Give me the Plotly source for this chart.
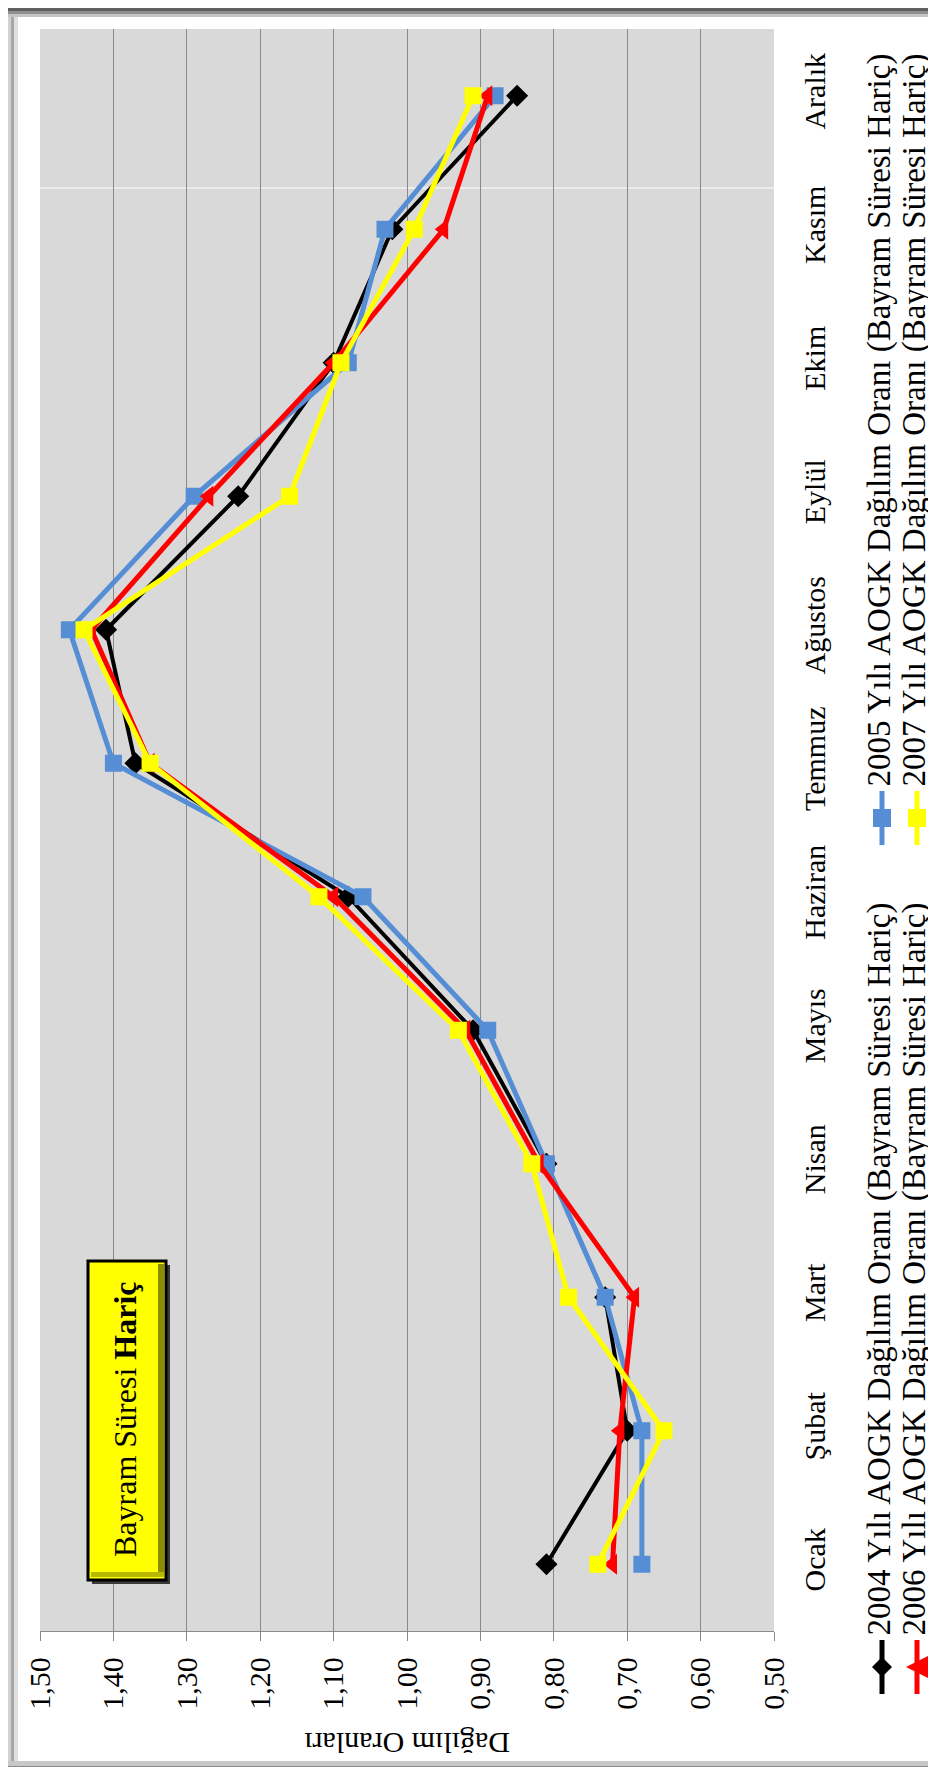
import plotly.graph_objects as go

# ---------------- data ----------------
months = ["Ocak", "Şubat", "Mart", "Nisan", "Mayıs", "Haziran",
          "Temmuz", "Ağustos", "Eylül", "Ekim", "Kasım", "Aralık"]
v2004 = [0.81, 0.70, 0.73, 0.81, 0.91, 1.08, 1.37, 1.41, 1.23, 1.10, 1.02, 0.85]
v2005 = [0.68, 0.68, 0.73, 0.81, 0.89, 1.06, 1.40, 1.46, 1.29, 1.08, 1.03, 0.88]
v2006 = [0.72, 0.71, 0.69, 0.82, 0.92, 1.10, 1.35, 1.43, 1.27, 1.10, 0.95, 0.89]
v2007 = [0.74, 0.65, 0.78, 0.83, 0.93, 1.12, 1.35, 1.44, 1.16, 1.09, 0.99, 0.91]
series_names = [
    "2004 Yılı AOGK Dağılım Oranı (Bayram Süresi Hariç)",
    "2005 Yılı AOGK Dağılım Oranı (Bayram Süresi Hariç)",
    "2006 Yılı AOGK Dağılım Oranı (Bayram Süresi Hariç)",
    "2007 Yılı AOGK Dağılım Oranı (Bayram Süresi Hariç)",
]
value_ticks = [0.5, 0.6, 0.7, 0.8, 0.9, 1.0, 1.1, 1.2, 1.3, 1.4, 1.5]
axis_title = "Dağılım Oranları"
box_text = "Bayram Süresi <b>Hariç</b>"

# ---------------- geometry ----------------
W, H = 936, 1767
PX0, PX1, PY0, PY1 = 32, 766, 21, 1623   # plot area in pixels
PW, PH = PX1 - PX0, PY1 - PY0
FONT = "Liberation Serif"
FS = 30
LEG_FS = 33

def px(x):
    return (x - PX0) / PW

def py(y):
    return (PY1 - y) / PH

colors = ["#000000", "#558ED5", "#FF0000", "#FFFF00"]
symbols = ["diamond", "square", "triangle-left", "square"]
msizes = [17, 17, 18, 17]
lwidths = [4, 5, 5, 5]
values = [v2004, v2005, v2006, v2007]

fig = go.Figure()
for name, vals, c, s, ms, lw in zip(series_names, values, colors, symbols, msizes, lwidths):
    fig.add_trace(go.Scatter(
        x=vals, y=months, name=name, mode="lines+markers",
        line=dict(color=c, width=lw),
        marker=dict(symbol=s, size=ms, color=c, line=dict(width=0)),
        cliponaxis=False, showlegend=False,
    ))

shapes = []
annotations = []

def rect(x0, y0, x1, y1, fill, line_color=None, lw=0, layer="above"):
    shapes.append(dict(type="rect", xref="paper", yref="paper",
                       x0=px(x0), x1=px(x1), y0=py(y0), y1=py(y1),
                       fillcolor=fill, layer=layer,
                       line=dict(color=line_color or fill, width=lw)))

# frame shadow
rect(0, 0, W, 3, "#5f5f5f")
rect(0, 3, W, 6, "#8f8f8f")
rect(0, 6, W, 9, "#c4c4c4")
rect(0, 9, 3, H, "#d2d2d2")
rect(3, 9, 6, H, "#a8a8a8")
rect(6, 9, 10, H, "#e0e0e0")
rect(W - 4, 9, W, H, "#d8d8d8")
rect(0, H - 14, W, H - 9, "#c8c8c8")
rect(0, H - 9, W, H - 4, "#8a8a8a")
rect(0, H - 4, W, H, "#a8a8a8")

# faint white line across the plot
shapes.append(dict(type="line", xref="paper", yref="paper",
                   x0=0, x1=1, y0=py(180), y1=py(180),
                   line=dict(color="white", width=1), layer="below"))

# yellow text box
rect(84, 1257, 162, 1576, "#3a3a3a")
rect(80, 1253, 158, 1572, "#FFFF00", "#000000", 3)
rect(150, 1256, 156, 1569, "#8c8c00")
rect(83, 1564, 156, 1569, "#b8b800")
annotations.append(dict(xref="paper", yref="paper", x=px(117), y=py(1412),
                        text=box_text, textangle=-90, showarrow=False,
                        font=dict(family=FONT, size=32, color="black"),
                        xanchor="center", yanchor="middle"))

# axis title (upside down)
annotations.append(dict(xref="paper", yref="paper", x=px(399), y=py(1736),
                        text=axis_title, textangle=180, showarrow=False,
                        font=dict(family=FONT, size=FS, color="black"),
                        xanchor="center", yanchor="middle"))

# manual legend (rotated)
leg_pos = [(874, 1659), (874, 810), (909, 1659), (909, 810)]
for (cx, cy), name, c, s in zip(leg_pos, series_names, colors, symbols):
    shapes.append(dict(type="line", xref="paper", yref="paper",
                       x0=px(cx), x1=px(cx), y0=py(cy - 27), y1=py(cy + 27),
                       line=dict(color=c, width=5)))
    if s == "diamond":
        path = f"M {px(cx-10)} {py(cy)} L {px(cx)} {py(cy-10)} L {px(cx+10)} {py(cy)} L {px(cx)} {py(cy+10)} Z"
    elif s == "triangle-left":
        path = f"M {px(cx-11)} {py(cy)} L {px(cx+11)} {py(cy-11)} L {px(cx+11)} {py(cy+11)} Z"
    else:
        path = f"M {px(cx-9)} {py(cy-9)} L {px(cx+9)} {py(cy-9)} L {px(cx+9)} {py(cy+9)} L {px(cx-9)} {py(cy+9)} Z"
    shapes.append(dict(type="path", xref="paper", yref="paper", path=path,
                       fillcolor=c, line=dict(color=c, width=0)))
    annotations.append(dict(xref="paper", yref="paper", x=px(cx - 3), y=py(cy - 29),
                            text=name, textangle=-90, showarrow=False,
                            font=dict(family=FONT, size=LEG_FS, color="black"),
                            xanchor="center", yanchor="bottom"))

fig.update_layout(
    width=W, height=H,
    margin=dict(l=PX0, r=W - PX1, t=PY0, b=H - PY1, pad=0),
    paper_bgcolor="white", plot_bgcolor="#D9D9D9",
    separators=",.",
    font=dict(family=FONT, size=FS, color="black"),
    shapes=shapes, annotations=annotations,
    xaxis=dict(range=[1.5, 0.5], tickvals=value_ticks, tickformat=".2f",
               tickangle=-90, showgrid=True, gridcolor="#898989", gridwidth=1.3,
               zeroline=False, showline=True, linecolor="#898989", linewidth=1.3,
               ticks="outside", ticklen=9, tickcolor="#898989", tickwidth=1.3,
               tickfont=dict(family=FONT, size=FS), automargin=False,
               ticklabelstandoff=4, mirror=False),
    yaxis=dict(type="category", categoryorder="array", categoryarray=months,
               range=[-0.5, 11.5], side="right", tickangle=-90,
               showgrid=False, zeroline=False, showline=False, ticks="",
               tickfont=dict(family=FONT, size=FS), automargin=False,
               ticklabelstandoff=20),
)

fig.write_html("out.html")
